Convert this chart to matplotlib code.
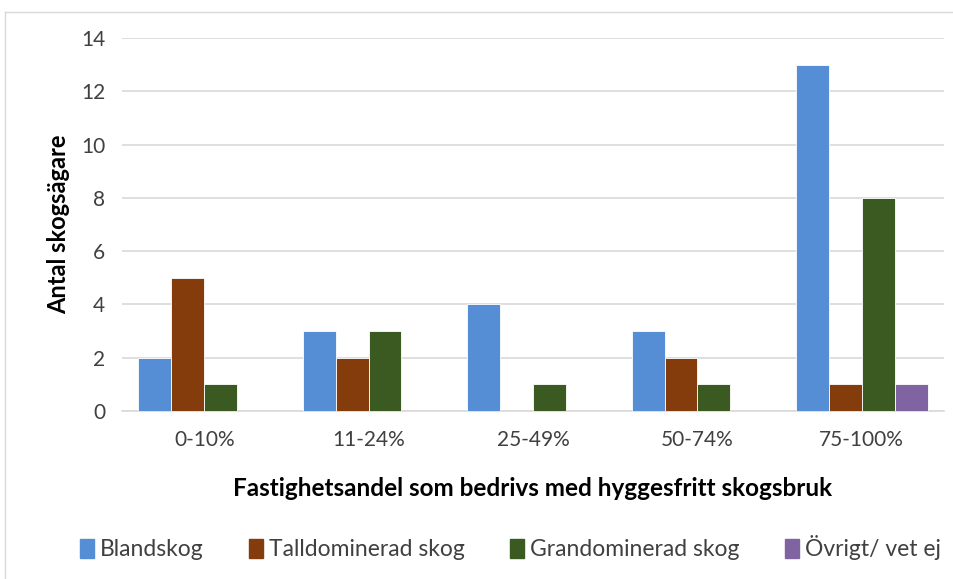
import matplotlib
matplotlib.use("Agg")
import matplotlib.pyplot as plt
import numpy as np
from matplotlib.lines import Line2D

categories = ["0-10%", "11-24%", "25-49%", "50-74%", "75-100%"]
series_names = ["Blandskog", "Talldominerad skog", "Grandominerad skog", "Övrigt/ vet ej"]
blandskog = [2, 3, 4, 3, 13]
talldominerad = [5, 2, 0, 2, 1]
grandominerad = [1, 3, 1, 1, 8]
ovrigt = [0, 0, 0, 0, 1]
yticks = [0, 2, 4, 6, 8, 10, 12, 14]

colors = ["#558ED5", "#843C0C", "#3A5A22", "#8064A2"]
values = [blandskog, talldominerad, grandominerad, ovrigt]

plt.rcParams['font.family'] = ['Lato', 'DejaVu Sans']

fig = plt.figure(figsize=(9.54, 5.79), dpi=100)
ax = fig.add_axes([122/954, 1-411/579, (944-122)/954, (411-38)/579])

x = np.arange(len(categories))
w = 0.2
for i, (name, vals, c) in enumerate(zip(series_names, values, colors)):
    ax.bar(x + (i - 1.5) * w, vals, width=w, color=c, edgecolor='white',
           linewidth=0.6, label=name, zorder=3)

ax.set_xlim(-0.5, len(categories) - 0.5)
ax.set_ylim(0, 14)
ax.set_yticks(yticks)
ax.set_xticks(x)
ax.set_xticklabels(categories)
ax.yaxis.grid(True, color='#D9D9D9', linewidth=1.2, zorder=0)
ax.set_axisbelow(True)
for s in ['top', 'right', 'left']:
    ax.spines[s].set_visible(False)
ax.spines['bottom'].set_color('#D9D9D9')
ax.spines['bottom'].set_linewidth(1.2)
ax.tick_params(axis='both', length=0, labelsize=15, colors='#404040')
ax.tick_params(axis='y', pad=12)
ax.tick_params(axis='x', pad=14)

ax.set_xlabel("Fastighetsandel som bedrivs med hyggesfritt skogsbruk",
              fontsize=17.5, fontweight='bold', color='black', labelpad=19)
ax.set_ylabel("Antal skogsägare", fontsize=17, fontweight='bold', color='black', labelpad=8)

handles = [plt.Rectangle((0, 0), 1, 1, color=c) for c in colors]
fig.legend(handles, series_names, loc='center', bbox_to_anchor=(0.535, 1-548/579),
           ncol=4, frameon=False, fontsize=16.5, handlelength=0.6, handleheight=0.9,
           handletextpad=0.25, columnspacing=2.0, labelcolor='#404040')

fig.add_artist(Line2D([5/954, 5/954], [0, 1-12/579], transform=fig.transFigure,
                      color='#D9D9D9', linewidth=1))
fig.add_artist(Line2D([5/954, 1], [1-12/579, 1-12/579], transform=fig.transFigure,
                      color='#D9D9D9', linewidth=1))

fig.savefig("out.png", dpi=100, facecolor='white')
